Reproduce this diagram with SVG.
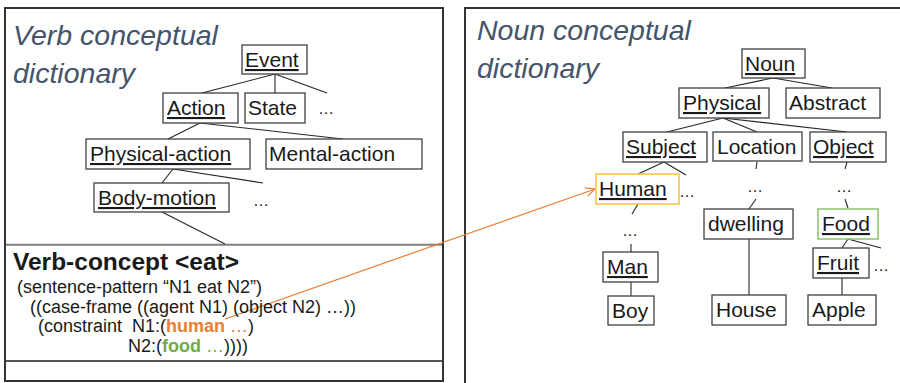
<svg xmlns="http://www.w3.org/2000/svg" width="900" height="383" viewBox="0 0 900 383">
  <style>
    .panel { fill: #ffffff; stroke: #333333; stroke-width: 2; }
    .title { font-family: "Liberation Sans", Arial, sans-serif; font-style: italic; font-size: 28.5px; fill: #44546a; }
    .box { fill: #ffffff; stroke: #404040; stroke-width: 1.3; }
    .box-human { fill: #ffffff; stroke: #f8c040; stroke-width: 1.5; }
    .box-food { fill: #ffffff; stroke: #8dc36a; stroke-width: 1.5; }
    .label { font-family: "Liberation Sans", Arial, sans-serif; font-size: 21px; fill: #1a1a1a; }
    .u { text-decoration: underline; text-decoration-thickness: 2px; text-underline-offset: 3px; }
    .dots { font-family: "Liberation Sans", Arial, sans-serif; font-size: 16px; fill: #1a1a1a; }
    .edge { stroke: #262626; stroke-width: 1.1; fill: none; }
    .head { font-family: "Liberation Sans", Arial, sans-serif; font-weight: bold; font-size: 24.5px; fill: #1a1a1a; }
    .code { font-family: "Liberation Sans", Arial, sans-serif; font-size: 18px; fill: #1a1a1a; }
    .hum { fill: #ed7d31; }
    .fd { fill: #70ad47; }
  </style>
  <defs>
    <marker id="openArrow" viewBox="0 0 10 10" refX="9.5" refY="5" markerWidth="10" markerHeight="10" markerUnits="userSpaceOnUse" orient="auto">
      <path d="M0,0.5 L9.5,5 L0,9.5" fill="none" stroke="#ed7d31" stroke-width="1.2"/>
    </marker>
  </defs>

  <!-- Verb dictionary panel -->
  <g id="verb-panel">
    <rect class="panel" x="5" y="8" width="438" height="373"/>
    <line x1="6" y1="244.7" x2="442" y2="244.7" stroke="#808080" stroke-width="2"/>
    <line x1="6" y1="361" x2="442" y2="361" stroke="#1a1a1a" stroke-width="1.5"/>
    <text class="title" x="13" y="45">Verb conceptual</text>
    <text class="title" x="13" y="83">dictionary</text>
  </g>

  <!-- Noun dictionary panel -->
  <g id="noun-panel">
    <rect class="panel" x="465" y="8" width="445" height="385"/>
    <text class="title" x="477" y="40">Noun conceptual</text>
    <text class="title" x="477" y="78">dictionary</text>
  </g>

  <!-- Connectors -->
  <g id="connectors">
    <!-- verb tree -->
    <line class="edge" x1="275" y1="74" x2="202" y2="93"/>
    <line class="edge" x1="275" y1="74" x2="275" y2="93"/>
    <line class="edge" x1="275" y1="74" x2="327" y2="93"/>
    <line class="edge" x1="200" y1="123" x2="168" y2="139"/>
    <line class="edge" x1="200" y1="123" x2="343" y2="139"/>
    <line class="edge" x1="173" y1="169" x2="162" y2="183"/>
    <line class="edge" x1="173" y1="169" x2="263" y2="183"/>
    <line class="edge" x1="162" y1="212" x2="225" y2="244"/>
    <!-- noun tree -->
    <line class="edge" x1="773" y1="78" x2="725" y2="88"/>
    <line class="edge" x1="773" y1="78" x2="832" y2="88"/>
    <line class="edge" x1="723" y1="118" x2="667" y2="132"/>
    <line class="edge" x1="723" y1="118" x2="757" y2="132"/>
    <line class="edge" x1="723" y1="118" x2="847" y2="132"/>
    <line class="edge" x1="664" y1="162" x2="638" y2="174"/>
    <line class="edge" x1="664" y1="162" x2="686" y2="175"/>
    <line class="edge" x1="638" y1="204" x2="632" y2="214"/>
    <line class="edge" x1="631" y1="244" x2="631" y2="252"/>
    <line class="edge" x1="631" y1="282" x2="631" y2="296"/>
    <line class="edge" x1="757" y1="162" x2="756" y2="169"/>
    <line class="edge" x1="756" y1="199" x2="749" y2="209"/>
    <line class="edge" x1="749" y1="239" x2="749" y2="295"/>
    <line class="edge" x1="847" y1="162" x2="845" y2="169"/>
    <line class="edge" x1="845" y1="199" x2="848" y2="208"/>
    <line class="edge" x1="848" y1="239" x2="842" y2="248"/>
    <line class="edge" x1="848" y1="239" x2="881" y2="248"/>
    <line class="edge" x1="842" y1="278" x2="842" y2="295"/>
    <!-- constraint link -->
    <line x1="225" y1="319" x2="595" y2="189" stroke="#ed7d31" stroke-width="1.2" marker-end="url(#openArrow)"/>
  </g>

  <!-- Verb concept nodes -->
  <g id="node-event"><rect class="box" x="242" y="45" width="65" height="29"/><text class="label u" x="245" y="67">Event</text></g>
  <g id="node-action"><rect class="box" x="163" y="93" width="75" height="30"/><text class="label u" x="167" y="115">Action</text></g>
  <g id="node-state"><rect class="box" x="245" y="93" width="60" height="30"/><text class="label" x="248" y="115">State</text></g>
  <text class="dots" x="318" y="114">…</text>
  <g id="node-physical-action"><rect class="box" x="86" y="139" width="164" height="30"/><text class="label u" x="90" y="161">Physical-action</text></g>
  <g id="node-mental-action"><rect class="box" x="266" y="139" width="156" height="30"/><text class="label" x="269" y="161">Mental-action</text></g>
  <g id="node-body-motion"><rect class="box" x="94" y="183" width="135" height="29"/><text class="label u" x="98" y="205">Body-motion</text></g>
  <text class="dots" x="253" y="206">…</text>

  <!-- Verb concept entry -->
  <g id="verb-entry">
    <text class="head" x="13" y="270">Verb-concept &lt;eat&gt;</text>
    <text class="code" x="17" y="293">(sentence-pattern “N1 eat N2”)</text>
    <text class="code" x="30" y="313">((case-frame ((agent N1) (object N2) …))</text>
    <text class="code" x="38" y="332" xml:space="preserve">(constraint  N1:(<tspan class="hum" font-weight="bold">human</tspan><tspan class="hum"> …</tspan>)</text>
    <text class="code" x="128" y="352">N2:(<tspan class="fd" font-weight="bold">food</tspan><tspan class="fd"> …</tspan>))))</text>
  </g>

  <!-- Noun concept nodes -->
  <g id="node-noun"><rect class="box" x="742" y="49" width="63" height="29"/><text class="label u" x="745" y="71">Noun</text></g>
  <g id="node-physical"><rect class="box" x="679" y="88" width="90" height="30"/><text class="label u" x="683" y="110">Physical</text></g>
  <g id="node-abstract"><rect class="box" x="786" y="88" width="94" height="30"/><text class="label" x="789" y="110">Abstract</text></g>
  <g id="node-subject"><rect class="box" x="623" y="132" width="84" height="30"/><text class="label u" x="626" y="154">Subject</text></g>
  <g id="node-location"><rect class="box" x="713" y="132" width="89" height="29"/><text class="label" x="717" y="154">Location</text></g>
  <g id="node-object"><rect class="box" x="810" y="132" width="76" height="30"/><text class="label u" x="813" y="154">Object</text></g>
  <g id="node-human"><rect class="box-human" x="596" y="174" width="83" height="30"/><text class="label u" x="599" y="196">Human</text></g>
  <text class="dots" x="679" y="197">…</text>
  <text class="dots" x="622" y="236">…</text>
  <text class="dots" x="747" y="192">…</text>
  <text class="dots" x="836" y="192">…</text>
  <g id="node-man"><rect class="box" x="603" y="252" width="55" height="30"/><text class="label u" x="607" y="274">Man</text></g>
  <g id="node-boy"><rect class="box" x="608" y="296" width="46" height="29"/><text class="label" x="612" y="318">Boy</text></g>
  <g id="node-dwelling"><rect class="box" x="704" y="209" width="89" height="30"/><text class="label" x="708" y="231">dwelling</text></g>
  <g id="node-house"><rect class="box" x="712" y="295" width="74" height="30"/><text class="label" x="716" y="317">House</text></g>
  <g id="node-food"><rect class="box-food" x="818" y="209" width="60" height="30"/><text class="label u" x="822" y="231">Food</text></g>
  <g id="node-fruit"><rect class="box" x="813" y="248" width="56" height="30"/><text class="label u" x="817" y="270">Fruit</text></g>
  <text class="dots" x="873" y="271">…</text>
  <g id="node-apple"><rect class="box" x="808" y="295" width="68" height="30"/><text class="label" x="812" y="317">Apple</text></g>
</svg>
